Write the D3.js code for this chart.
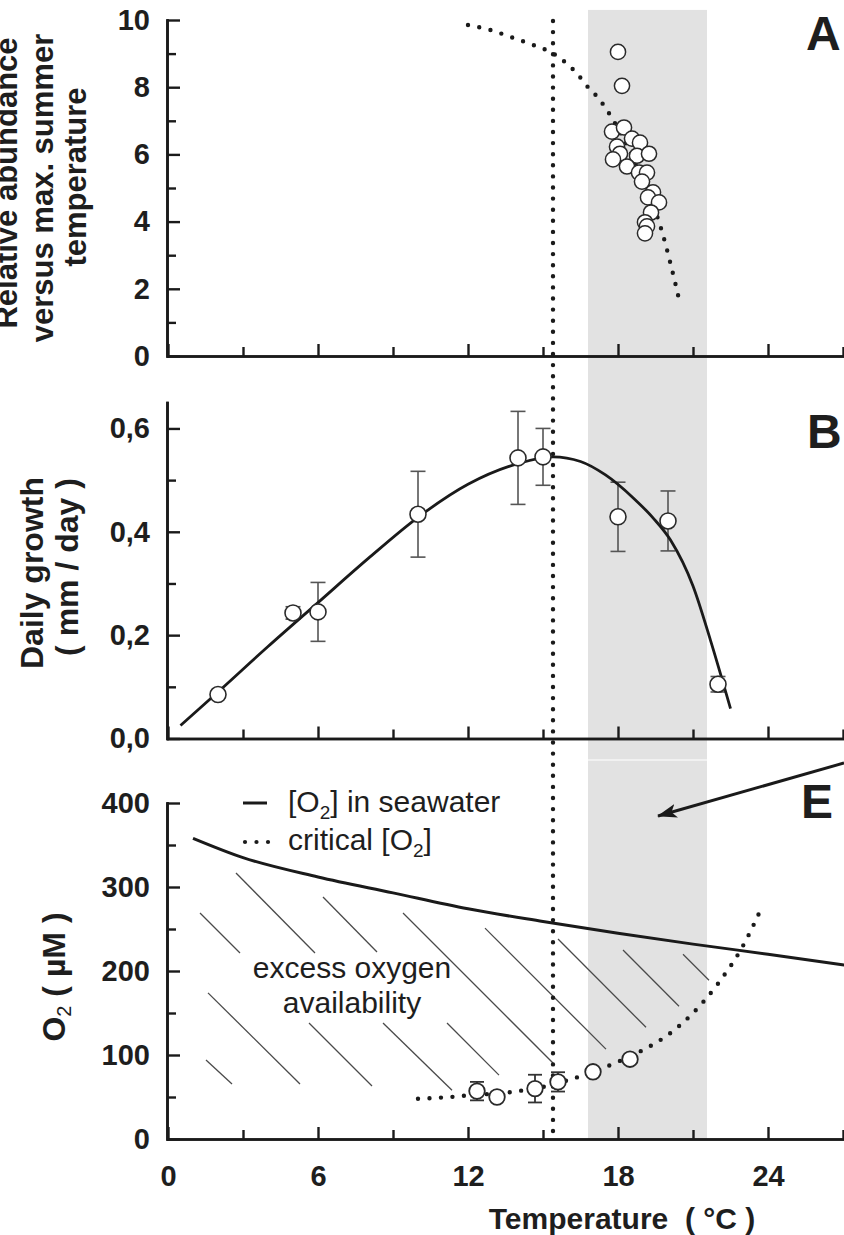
<!DOCTYPE html>
<html>
<head>
<meta charset="utf-8">
<script src="https://cdn.jsdelivr.net/npm/d3@7"></script>
<style>
  body { margin: 0; background: #fff; }
  svg { display: block; }
  text { font-family: "Liberation Sans", Arial, Helvetica, sans-serif; fill: #1e1e1e; }
</style>
</head>
<body>
<svg id="chart" width="844" height="1235"></svg>
<script>
// ---- shared temperature axis (°C) ----
const tempMajorTicks = [0, 6, 12, 18, 24];
const tempMinorTicks = [3, 9, 15, 21, 27];
const tempTickLabels = ["0", "6", "12", "18", "24"];
const criticalTemp = 15.4;              // vertical dotted marker
const summerBand = [16.8, 21.56];       // shaded max. summer temperature range

// ---- panel A: relative abundance vs. max. summer temperature ----
const abundanceTemp  = [18.0, 18.16, 17.76, 18.24, 18.56, 18.88, 17.96, 18.08, 18.76, 19.24, 17.8, 18.36,
                        18.84, 19.16, 18.96, 19.4, 19.2, 19.64, 19.32, 19.08, 19.16, 19.08];
const abundanceValue = [9.05, 8.04, 6.68, 6.8, 6.47, 6.35, 6.23, 6.02, 5.96, 6.02, 5.85, 5.64,
                        5.46, 5.46, 5.19, 4.87, 4.72, 4.57, 4.27, 3.98, 3.86, 3.65];
const abundanceFitTemp  = [12.0, 12.9, 13.8, 14.6, 15.5, 16.4, 16.8, 17.2, 17.8, 18.4, 19.0, 19.5, 19.8, 20.1, 20.5];
const abundanceFitValue = [9.85, 9.7, 9.47, 9.26, 8.96, 8.37, 8.0, 7.69, 7.03, 6.2, 5.2, 4.3, 3.6, 2.75, 1.5];
const abundanceMajorTicks = [0, 2, 4, 6, 8, 10];
const abundanceMinorTicks = [1, 3, 5, 7, 9];
const abundanceTickLabels = ["0", "2", "4", "6", "8", "10"];

// ---- panel B: daily growth ----
const growthTemp  = [2, 5, 6, 10, 14, 15, 18, 20, 22];
const growthValue = [0.085, 0.243, 0.245, 0.434, 0.543, 0.545, 0.429, 0.421, 0.105];
const growthError = [0, 0.012, 0.057, 0.083, 0.09, 0.055, 0.067, 0.058, 0.015];
const growthFitTemp  = [0.5, 2, 4, 6, 8, 10, 12, 14, 15.4, 16.5, 17.5, 18.6, 19.4, 20.1, 21.0, 21.7, 22.5];
const growthFitValue = [0.025, 0.09, 0.178, 0.263, 0.348, 0.428, 0.492, 0.532, 0.545, 0.536,
                        0.51, 0.466, 0.427, 0.384, 0.295, 0.19, 0.058];
const growthMajorTicks = [0, 0.2, 0.4, 0.6];
const growthMinorTicks = [0.1, 0.3, 0.5];
const growthTickLabels = ["0,0", "0,2", "0,4", "0,6"];

// ---- panel E: oxygen ----
const seawaterTemp = [1, 3, 6, 9, 12, 15, 18, 21, 24, 27.1];
const seawaterO2   = [358, 335, 312, 293, 274, 259, 245, 232, 220, 207];
const criticalTempCurve = [10, 11.3, 12.4, 13.2, 14, 15, 16, 17, 18, 19, 20, 21, 22, 23, 23.8];
const criticalO2Curve   = [48, 50, 53, 54, 57, 62, 70, 80, 92, 106, 124, 150, 185, 230, 279];
const criticalPointTemp  = [12.36, 13.16, 14.68, 15.6, 17.0, 18.48];
const criticalPointO2    = [57, 50, 60, 68, 80, 95];
const criticalPointError = [11, 5, 16.5, 11.5, 0, 0];
const oxygenMajorTicks = [0, 100, 200, 300, 400];
const oxygenMinorTicks = [50, 150, 250, 350];
const oxygenTickLabels = ["0", "100", "200", "300", "400"];
// hatching of the excess-oxygen region: [T1, O2_1, T2, O2_2]
const hatchSegments = [
  [2.72, 316.7, 5.88, 221.4], [1.28, 269, 2.88, 221.4], [6.2, 288, 8.36, 222.6],
  [9.4, 269, 15.4, 90.5], [12.68, 251, 17.52, 107], [15.6, 238, 19.12, 133],
  [18.2, 225, 20.44, 158], [20.6, 220, 21.64, 189], [1.6, 174, 5.28, 65.5],
  [1.52, 94, 2.56, 65.5], [5.64, 138, 8.16, 63], [8.6, 138, 11.36, 58], [11.16, 138, 13.24, 76]
];
// pointer from outside the frame into the shaded band
const arrowFrom = [27.04, 447.6];
const arrowTo   = [19.6, 384.5];

// ---- scales ----
const svg = d3.select("#chart");
const x  = d3.scaleLinear().domain([0, 27.04]).range([168, 844]);
const yA = d3.scaleLinear().domain([0, 10]).range([356, 20]);
const yB = d3.scaleLinear().domain([0, 0.65]).range([738.5, 402.6]);
const yE = d3.scaleLinear().domain([0, 400]).range([1139, 803]);

const ink = "#1a1a1a";

// shaded band behind all panels
svg.append("rect")
  .attr("x", x(summerBand[0])).attr("width", x(summerBand[1]) - x(summerBand[0]))
  .attr("y", yA(10.3)).attr("height", yE(0) - yA(10.3))
  .attr("fill", "#e2e2e2");
svg.append("line")
  .attr("x1", x(summerBand[0])).attr("x2", x(summerBand[1]))
  .attr("y1", 760).attr("y2", 760)
  .attr("stroke", "#fff").attr("stroke-width", 1.2);

// ---- axes ----
function drawAxes(y, major, minor, labels, showXLabels) {
  const g = svg.append("g");
  const xa = g.append("g").attr("transform", `translate(0,${y(0)})`);
  xa.call(d3.axisBottom(x).tickValues(tempMajorTicks).tickSizeInner(-12).tickSizeOuter(0)
      .tickPadding(26).tickFormat((d, i) => showXLabels ? tempTickLabels[i] : ""));
  xa.append("g").call(d3.axisBottom(x).tickValues(tempMinorTicks).tickSizeInner(-9)
      .tickSizeOuter(0).tickFormat(""));
  const ya = g.append("g").attr("transform", `translate(167,0)`);
  ya.call(d3.axisLeft(y).tickValues(major).tickSizeInner(-13).tickSizeOuter(0)
      .tickPadding(17).tickFormat((d, i) => labels[i]));
  ya.append("g").call(d3.axisLeft(y).tickValues(minor).tickSizeInner(-9)
      .tickSizeOuter(0).tickFormat(""));
  g.selectAll(".domain").attr("stroke", ink).attr("stroke-width", 2.6).attr("stroke-linecap", "square");
  g.selectAll(".tick line").attr("stroke", ink).attr("stroke-width", 2.4);
  g.selectAll(".tick text")
    .attr("font-size", 29).attr("font-weight", "bold")
    .attr("font-family", "'Liberation Sans', Arial, sans-serif").attr("fill", "#1e1e1e");
  return g;
}
drawAxes(yA, abundanceMajorTicks, abundanceMinorTicks, abundanceTickLabels, false);
drawAxes(yB, growthMajorTicks, growthMinorTicks, growthTickLabels, false);
drawAxes(yE, oxygenMajorTicks, oxygenMinorTicks, oxygenTickLabels, true);

// ---- hatching (panel E) ----
svg.append("g").selectAll("line").data(hatchSegments).join("line")
  .attr("x1", d => x(d[0])).attr("y1", d => yE(d[1]))
  .attr("x2", d => x(d[2])).attr("y2", d => yE(d[3]))
  .attr("stroke", "#4a4a4a").attr("stroke-width", 1.3);

// ---- dotted style helper ----
function dotted(sel, gap) {
  return sel.attr("fill", "none").attr("stroke", ink).attr("stroke-width", 4.4)
    .attr("stroke-linecap", "round").attr("stroke-dasharray", `0 ${gap}`);
}

// vertical critical-temperature marker
dotted(svg.append("line")
  .attr("x1", x(criticalTemp)).attr("x2", x(criticalTemp))
  .attr("y1", yA(10) + 1).attr("y2", yE(0)), 11.1);

// ---- panel A ----
const lineA = d3.line().curve(d3.curveMonotoneX).x(d => x(d[0])).y(d => yA(d[1]));
dotted(svg.append("path").attr("d", lineA(d3.zip(abundanceFitTemp, abundanceFitValue))), 11.5);
svg.append("g").selectAll("circle").data(d3.zip(abundanceTemp, abundanceValue)).join("circle")
  .attr("cx", d => x(d[0])).attr("cy", d => yA(d[1])).attr("r", 7.6)
  .attr("fill", "#fff").attr("stroke", "#2a2a2a").attr("stroke-width", 1.5);

// ---- panel B ----
const lineB = d3.line().curve(d3.curveMonotoneX).x(d => x(d[0])).y(d => yB(d[1]));
const growth = growthTemp.map((t, i) => ({ t, v: growthValue[i], e: growthError[i] }));
const errB = svg.append("g").attr("stroke", "#555").attr("stroke-width", 1.6);
growth.filter(d => d.e > 0).forEach(d => {
  errB.append("line").attr("x1", x(d.t)).attr("x2", x(d.t)).attr("y1", yB(d.v - d.e)).attr("y2", yB(d.v + d.e));
  [d.v - d.e, d.v + d.e].forEach(v =>
    errB.append("line").attr("x1", x(d.t) - 7.5).attr("x2", x(d.t) + 7.5).attr("y1", yB(v)).attr("y2", yB(v)));
});
svg.append("path").attr("d", lineB(d3.zip(growthFitTemp, growthFitValue)))
  .attr("fill", "none").attr("stroke", ink).attr("stroke-width", 2.8);
svg.append("g").selectAll("circle").data(growth).join("circle")
  .attr("cx", d => x(d.t)).attr("cy", d => yB(d.v)).attr("r", 8)
  .attr("fill", "#fff").attr("stroke", "#2a2a2a").attr("stroke-width", 1.6);

// ---- panel E ----
const lineE = d3.line().curve(d3.curveMonotoneX).x(d => x(d[0])).y(d => yE(d[1]));
svg.append("path").attr("d", lineE(d3.zip(seawaterTemp, seawaterO2)))
  .attr("fill", "none").attr("stroke", ink).attr("stroke-width", 3);
dotted(svg.append("path").attr("d", lineE(d3.zip(criticalTempCurve, criticalO2Curve))), 11.5);
const crit = criticalPointTemp.map((t, i) => ({ t, v: criticalPointO2[i], e: criticalPointError[i] }));
const errE = svg.append("g").attr("stroke", "#333").attr("stroke-width", 1.8);
crit.filter(d => d.e > 0).forEach(d => {
  errE.append("line").attr("x1", x(d.t)).attr("x2", x(d.t)).attr("y1", yE(d.v - d.e)).attr("y2", yE(d.v + d.e));
  [d.v - d.e, d.v + d.e].forEach(v =>
    errE.append("line").attr("x1", x(d.t) - 7).attr("x2", x(d.t) + 7).attr("y1", yE(v)).attr("y2", yE(v)));
});
svg.append("g").selectAll("circle").data(crit).join("circle")
  .attr("cx", d => x(d.t)).attr("cy", d => yE(d.v)).attr("r", 7.8)
  .attr("fill", "#fff").attr("stroke", "#2a2a2a").attr("stroke-width", 1.8);

// arrow
svg.append("defs").append("marker")
  .attr("id", "head").attr("viewBox", "0 0 20 14").attr("refX", 19).attr("refY", 7)
  .attr("markerWidth", 20).attr("markerHeight", 14).attr("markerUnits", "userSpaceOnUse")
  .attr("orient", "auto")
  .append("path").attr("d", "M0,0 L20,7 L0,14 L5,7 Z").attr("fill", ink);
svg.append("line")
  .attr("x1", x(arrowFrom[0])).attr("y1", yE(arrowFrom[1]))
  .attr("x2", x(arrowTo[0])).attr("y2", yE(arrowTo[1]))
  .attr("stroke", ink).attr("stroke-width", 3).attr("marker-end", "url(#head)");

// legend
svg.append("line").attr("x1", 243).attr("x2", 267).attr("y1", 803).attr("y2", 803)
  .attr("stroke", ink).attr("stroke-width", 3);
svg.append("g").selectAll("circle").data([245, 256.5, 268]).join("circle")
  .attr("cx", d => d).attr("cy", 842).attr("r", 2.1).attr("fill", ink);
function o2Label(xPos, yPos, before, after) {
  const t = svg.append("text").attr("x", xPos).attr("y", yPos).attr("font-size", 30);
  t.append("tspan").text(before + "O");
  t.append("tspan").attr("font-size", 19).attr("dy", 7).text("2");
  t.append("tspan").attr("dy", -7).text(after);
  return t;
}
o2Label(288, 812, "[", "] in seawater");
o2Label(288, 850, "critical [", "]");

svg.append("text").attr("x", 352).attr("y", 978).attr("text-anchor", "middle")
  .attr("font-size", 30).text("excess oxygen");
svg.append("text").attr("x", 352).attr("y", 1013).attr("text-anchor", "middle")
  .attr("font-size", 30).text("availability");

// panel letters
[["A", 806, 50], ["B", 807, 448], ["E", 801, 818]].forEach(([s, px, py]) =>
  svg.append("text").attr("x", px).attr("y", py).attr("font-size", 48)
    .attr("font-weight", "bold").text(s));

// axis titles
function vTitle(bx, cy, str, size) {
  return svg.append("text").attr("transform", `translate(${bx},${cy}) rotate(-90)`)
    .attr("text-anchor", "middle").attr("font-size", size).attr("font-weight", "bold").text(str);
}
vTitle(17, 183, "Relative abundance", 31);
vTitle(53, 188, "versus max. summer", 31);
vTitle(86, 177, "temperature", 31);
vTitle(43, 573, "Daily growth", 32);
vTitle(78, 567, "( mm / day )", 32);
const o2t = svg.append("text").attr("transform", "translate(65,977) rotate(-90)")
  .attr("text-anchor", "middle").attr("font-size", 32).attr("font-weight", "bold");
o2t.append("tspan").text("O");
o2t.append("tspan").attr("font-size", 20).attr("font-weight", "normal").attr("dy", 6).text("2");
o2t.append("tspan").attr("dy", -6).text("  ( µM )");

svg.append("text").attr("x", 622).attr("y", 1229).attr("text-anchor", "middle")
  .attr("font-size", 30).attr("font-weight", "bold").attr("xml:space", "preserve")
  .text("Temperature  ( °C )");
</script>
</body>
</html>
